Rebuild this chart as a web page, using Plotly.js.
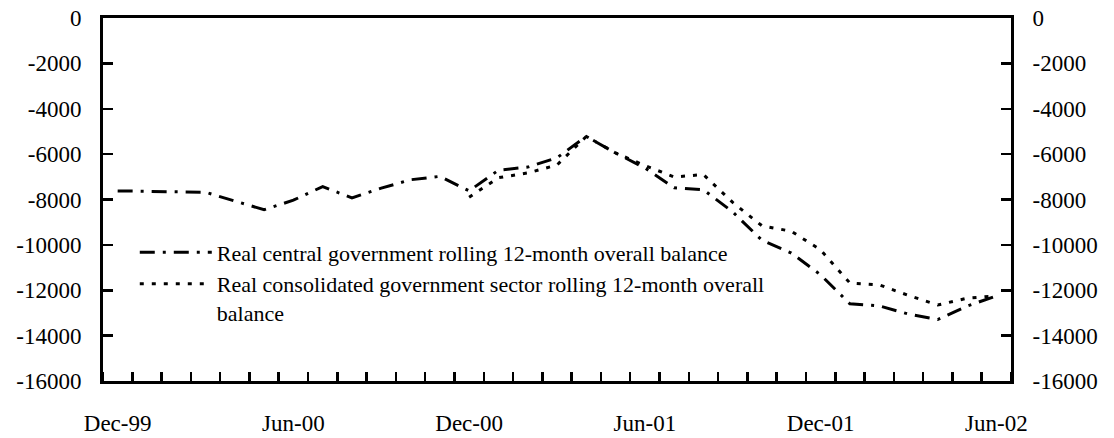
<!DOCTYPE html>
<html>
<head>
<meta charset="utf-8">
<script src="https://cdn.plot.ly/plotly-3.0.1.min.js"></script>
<style>
  html, body { margin: 0; padding: 0; background: #ffffff; }
  #chart { width: 1114px; height: 438px; }
</style>
</head>
<body>
<div id="chart"></div>
<script>
// Categories (months)
const months = ["Dec-99","Jan-00","Feb-00","Mar-00","Apr-00","May-00","Jun-00","Jul-00","Aug-00","Sep-00","Oct-00","Nov-00",
                "Dec-00","Jan-01","Feb-01","Mar-01","Apr-01","May-01","Jun-01","Jul-01","Aug-01","Sep-01","Oct-01","Nov-01",
                "Dec-01","Jan-02","Feb-02","Mar-02","Apr-02","May-02","Jun-02"];

// Series values
const centralBalance = [-7620,-7640,-7650,-7680,-8070,-8450,-8030,-7430,-7930,-7500,-7130,-6980,
                        -7620,-6710,-6570,-6160,-5220,-5950,-6610,-7480,-7570,-8550,-9800,-10360,
                        -11320,-12600,-12690,-13050,-13290,-12700,-12250];
const consolidatedBalance = [null,null,null,null,null,null,null,null,null,null,null,null,
                        -7900,-7040,-6830,-6480,-5220,-5950,-6500,-7010,-6900,-8130,-9160,-9400,
                        -10220,-11680,-11760,-12230,-12650,-12350,-12250];

// Series names
const centralName = "Real central government rolling 12-month overall balance";
const consolidatedName = "Real consolidated government sector rolling 12-month overall<br>balance";

// Tick labels
const xTickLabels = ["Dec-99","Jun-00","Dec-00","Jun-01","Dec-01","Jun-02"];
const yTickVals = [0,-2000,-4000,-6000,-8000,-10000,-12000,-14000,-16000];
const yTickText = ["0","-2000","-4000","-6000","-8000","-10000","-12000","-14000","-16000"];

const xIndex = months.map((m, i) => i);
const xTickVals = xTickLabels.map(l => months.indexOf(l));

const FONT = "Liberation Serif, Times New Roman, serif";

const traces = [
  {
    x: xIndex, y: centralBalance, name: centralName, type: "scatter", mode: "lines",
    line: { color: "#000000", width: 3, dash: "15px,8px,3px,8px" },
    connectgaps: false
  },
  {
    x: xIndex, y: consolidatedBalance, name: consolidatedName, type: "scatter", mode: "lines",
    line: { color: "#000000", width: 3, dash: "4px,8px" },
    connectgaps: false
  },
  {
    x: xIndex, y: centralBalance, yaxis: "y2", type: "scatter", mode: "lines",
    line: { color: "rgba(0,0,0,0)", width: 0 }, showlegend: false, hoverinfo: "skip"
  }
];

const yCommon = {
  range: [-16000, 0],
  tickmode: "array",
  tickvals: yTickVals,
  ticktext: yTickText,
  ticks: "inside",
  ticklen: 10,
  tickwidth: 2.5,
  tickcolor: "#000",
  showline: true,
  linecolor: "#000",
  linewidth: 3,
  showgrid: false,
  zeroline: false,
  fixedrange: true,
  ticklabelstandoff: 14,
  tickfont: { family: FONT, size: 23, color: "#000" }
};

const layout = {
  width: 1114,
  height: 438,
  margin: { l: 103, r: 103, t: 18, b: 57 },
  paper_bgcolor: "#ffffff",
  plot_bgcolor: "#ffffff",
  font: { family: FONT, color: "#000" },
  showlegend: true,
  legend: {
    x: 0.035, y: 0.412, xanchor: "left", yanchor: "top",
    bgcolor: "rgba(0,0,0,0)",
    font: { family: FONT, size: 22, color: "#000" },
    itemwidth: 72,
    valign: "top",
    tracegroupgap: 0
  },
  xaxis: {
    range: [-0.5, 30.5],
    tickmode: "array",
    tickvals: xTickVals,
    ticktext: xTickLabels,
    ticks: "",
    showline: true,
    mirror: true,
    linecolor: "#000",
    linewidth: 3,
    showgrid: false,
    zeroline: false,
    fixedrange: true,
    ticklabelstandoff: 19,
    tickfont: { family: FONT, size: 23, color: "#000" },
    minor: { tick0: 0.5, dtick: 1, ticks: "inside", ticklen: 9, tickwidth: 2.5, tickcolor: "#000", showgrid: false }
  },
  yaxis: Object.assign({}, yCommon, { side: "left" }),
  yaxis2: Object.assign({}, yCommon, { side: "right", overlaying: "y" })
};

Plotly.newPlot("chart", traces, layout, { staticPlot: true, displayModeBar: false });
</script>
</body>
</html>
